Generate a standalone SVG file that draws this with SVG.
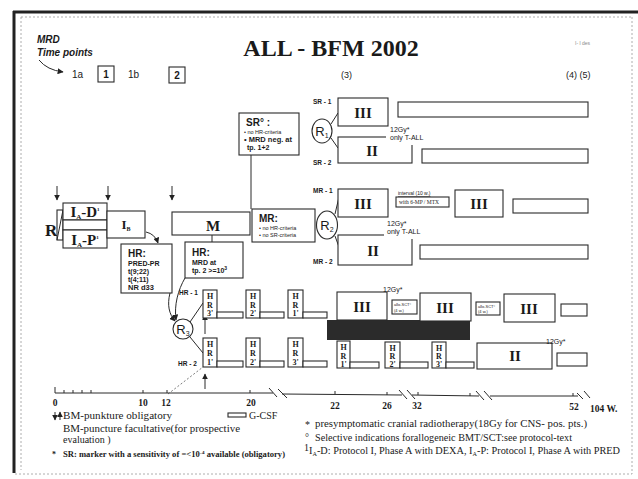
<svg xmlns="http://www.w3.org/2000/svg" width="638" height="479" viewBox="0 0 638 479">
<defs>
<marker id="ah" viewBox="0 0 10 10" refX="9" refY="5" markerWidth="6" markerHeight="6" orient="auto-start-reverse" markerUnits="userSpaceOnUse">
<path d="M0,0 L10,5 L0,10 z" fill="#222"/>
</marker>
<style>
.bx{fill:#fff;stroke:#2a2a2a;stroke-width:1.1}
.ln{fill:none;stroke:#2a2a2a;stroke-width:1}
.ss{font-family:"Liberation Sans",Arial,sans-serif;fill:#1a1a1a}
.sf{font-family:"Liberation Serif","Times New Roman",serif;fill:#1a1a1a}
.b{font-weight:bold}
.rom{font-family:"Liberation Serif","Times New Roman",serif;font-weight:bold;font-size:15px;text-anchor:middle;fill:#1a1a1a}
.hr{font-family:"Liberation Serif","Times New Roman",serif;font-weight:bold;font-size:8px;text-anchor:middle;fill:#1a1a1a}
.lab{font-family:"Liberation Sans",Arial,sans-serif;font-weight:bold;font-size:6.5px;fill:#1a1a1a}
.tiny{font-family:"Liberation Sans",Arial,sans-serif;font-size:5.5px;fill:#1a1a1a}
.gy{font-family:"Liberation Sans",Arial,sans-serif;font-size:7px;fill:#1a1a1a}
.ax{font-family:"Liberation Serif","Times New Roman",serif;font-weight:bold;font-size:9.5px;text-anchor:middle;fill:#1a1a1a}
.leg{font-family:"Liberation Serif","Times New Roman",serif;font-size:10px;fill:#1a1a1a}
.dot{fill:none;stroke:#999;stroke-width:0.8;stroke-dasharray:2,2}
</style>
</defs>
<rect width="638" height="479" fill="#fff"/>
<g id="frame">
<line x1="13" y1="12" x2="638" y2="12" stroke="#222" stroke-width="3"/>
<line x1="14" y1="11" x2="14" y2="473" stroke="#222" stroke-width="3"/>
<line x1="21" y1="17" x2="632" y2="17" class="dot"/>
<line x1="21" y1="17" x2="21" y2="470" class="dot"/>
<line x1="15" y1="474" x2="632" y2="474" class="dot"/>
<line x1="632" y1="17" x2="632" y2="474" class="dot"/>
</g>
<g id="header">
<text x="331" y="56" class="sf b" font-size="24" text-anchor="middle">ALL - BFM 2002</text>
<text x="575" y="45" class="ss" font-size="5" style="fill:#888">I- l des</text>
<text x="37" y="43" class="ss b" font-size="10" font-style="italic">MRD</text>
<text x="37" y="56" class="ss b" font-size="10" font-style="italic">Time points</text>
<path d="M39,60 Q47,70 63,72" class="ln" marker-end="url(#ah)"/>
<text x="72" y="78" class="ss" font-size="10">1a</text>
<rect x="98" y="66" width="16" height="16" class="bx"/>
<text x="106" y="78" class="ss b" font-size="10" text-anchor="middle">1</text>
<text x="128" y="78" class="ss" font-size="10">1b</text>
<rect x="169" y="67" width="16" height="16" class="bx"/>
<text x="177" y="79" class="ss b" font-size="10" text-anchor="middle">2</text>
<text x="341" y="78" class="ss" font-size="9">(3)</text>
<text x="566" y="78" class="ss" font-size="9">(4)  (5)</text>
</g>
<g id="connectors">
<line x1="57" y1="186" x2="57" y2="200" class="ln" marker-end="url(#ah)"/>
<line x1="108" y1="186" x2="108" y2="200" class="ln" marker-end="url(#ah)"/>
<line x1="172" y1="186" x2="172" y2="200" class="ln" marker-end="url(#ah)"/>
<path d="M146,232 Q155,234 158,243" class="ln" marker-end="url(#ah)"/>
<line x1="212" y1="235" x2="212" y2="242" class="ln"/>
<line x1="251" y1="155" x2="251" y2="209" class="ln"/>
<line x1="331" y1="124" x2="338" y2="113" class="ln"/>
<line x1="331" y1="138" x2="338" y2="148" class="ln"/>
<line x1="335" y1="214" x2="339" y2="197" class="ln"/>
<line x1="335" y1="236" x2="339" y2="247" class="ln"/>
<path d="M170,293 C167,305 169,314 175,321" class="ln" marker-end="url(#ah)"/>
<path d="M185,278 C178,290 174,305 176,320" class="ln" marker-end="url(#ah)"/>
<line x1="190" y1="322" x2="203" y2="303" class="ln"/>
<line x1="190" y1="337" x2="203" y2="353" class="ln"/>
<line x1="205" y1="334" x2="205" y2="315" class="ln" marker-end="url(#ah)"/>
<line x1="205" y1="389" x2="205" y2="374" class="ln" marker-end="url(#ah)"/>
<line x1="168" y1="394" x2="203" y2="367" stroke="#444" stroke-width="0.7" stroke-dasharray="2,2"/>
</g>
<g id="R">
<text x="45" y="236" class="sf b" font-size="17">R</text>
<rect x="57" y="210" width="6" height="30" class="bx"/>
<line x1="57" y1="240" x2="63" y2="210" class="ln"/>
</g>
<g id="IAD">
<rect x="63" y="203" width="44" height="17" class="bx"/>
<text x="85" y="217" class="sf b" font-size="15" text-anchor="middle">I<tspan font-size="7" dy="2">A</tspan><tspan dy="-2">-D</tspan><tspan font-size="5" dy="-6">1</tspan></text>
</g>
<rect x="63" y="220" width="44" height="10" class="bx"/>
<g id="IAP">
<rect x="63" y="230" width="44" height="18" class="bx"/>
<text x="85" y="245" class="sf b" font-size="15" text-anchor="middle">I<tspan font-size="7" dy="2">A</tspan><tspan dy="-2">-P</tspan><tspan font-size="5" dy="-6">1</tspan></text>
</g>
<g id="IB">
<rect x="107" y="211" width="38" height="27" class="bx"/>
<text x="126" y="229" class="sf b" font-size="13" text-anchor="middle">I<tspan font-size="6" dy="2">B</tspan></text>
</g>
<g id="HRbox1">
<rect x="121" y="244" width="51" height="49" class="bx"/>
<text x="128" y="257" class="ss b" font-size="10">HR:</text>
<text x="128" y="266" class="ss b" font-size="7">PRED-PR</text>
<text x="128" y="274" class="ss b" font-size="7">t(9;22)</text>
<text x="128" y="282" class="ss b" font-size="7">t(4;11)</text>
<text x="128" y="290" class="ss b" font-size="7.5">NR d33</text>
</g>
<g id="M">
<rect x="172" y="212" width="78" height="23" class="bx"/>
<text x="213" y="231" class="sf b" font-size="15" text-anchor="middle">M</text>
</g>
<g id="HRbox2">
<rect x="185" y="242" width="58" height="36" class="bx"/>
<text x="192" y="256" class="ss b" font-size="10">HR:</text>
<text x="192" y="265" class="ss b" font-size="7">MRD at</text>
<text x="192" y="273" class="ss b" font-size="7">tp. 2  &gt;=10<tspan font-size="5" dy="-3">3</tspan></text>
</g>
<g id="SRbox">
<rect x="239" y="113" width="60" height="42" class="bx"/>
<text x="246" y="126" class="ss b" font-size="10">SR°  :</text>
<text x="244" y="134" class="tiny">• no HR-criteria</text>
<text x="244" y="142" class="ss b" font-size="7.5">• MRD neg. at</text>
<text x="247" y="150" class="ss b" font-size="7">tp. 1+2</text>
</g>
<g id="MRbox">
<rect x="252" y="209" width="63" height="33" class="bx"/>
<text x="259" y="222" class="ss b" font-size="10">MR:</text>
<text x="259" y="230" class="tiny">• no HR-criteria</text>
<text x="259" y="237" class="tiny">• no SR-criteria</text>
</g>
<g id="R1">
<ellipse cx="322" cy="131" rx="10" ry="12" class="bx"/>
<text x="322" y="136" class="ss" font-size="13" text-anchor="middle">R<tspan font-size="7" dy="2">1</tspan></text>
</g>
<g id="SR1">
<text x="313" y="104" class="lab">SR - 1</text>
<rect x="338" y="98" width="50" height="28" class="bx"/>
<text x="363" y="118" class="rom">III</text>
<rect x="398" y="102" width="190" height="15" class="bx"/>
</g>
<g id="SR2">
<text x="313" y="165" class="lab">SR - 2</text>
<rect x="338" y="137" width="74" height="26" class="bx"/>
<text x="372" y="156" class="rom">II</text>
<rect x="422" y="149" width="166" height="14" class="bx"/>
</g>
<rect x="386" y="127" width="46" height="18" fill="#fff"/>
<text x="390" y="132" class="gy">12Gy*</text>
<text x="390" y="140" class="gy">only T-ALL</text>
<g id="R2">
<ellipse cx="327" cy="225" rx="10.5" ry="14" class="bx"/>
<text x="327" y="230" class="ss" font-size="13" text-anchor="middle">R<tspan font-size="7" dy="2">2</tspan></text>
</g>
<g id="MR1">
<text x="313" y="193" class="lab">MR - 1</text>
<rect x="338" y="189" width="50" height="28" class="bx"/>
<text x="363" y="209" class="rom">III</text>
<text x="398" y="195" class="ss" font-size="5" text-decoration="underline">interval (10 w.)</text>
<rect x="396" y="197" width="53" height="10" class="bx"/>
<text x="399" y="204" class="sf" font-size="5.5">with 6-MP / MTX</text>
<rect x="455" y="190" width="48" height="27" class="bx"/>
<text x="479" y="209" class="rom">III</text>
<rect x="513" y="199" width="75" height="14" class="bx"/>
</g>
<g id="MR2">
<text x="313" y="264" class="lab">MR - 2</text>
<rect x="338" y="235" width="74" height="30" class="bx"/>
<text x="373" y="256" class="rom">II</text>
<rect x="420" y="245" width="168" height="14" class="bx"/>
</g>
<rect x="384" y="218" width="48" height="21" fill="#fff"/>
<text x="387" y="226" class="gy">12Gy*</text>
<text x="387" y="234" class="gy">only T-ALL</text>
<g id="R3">
<ellipse cx="183" cy="329" rx="10" ry="10" class="bx"/>
<text x="183" y="334" class="ss" font-size="13" text-anchor="middle">R<tspan font-size="7" dy="2">3</tspan></text>
</g>
<g id="HR1">
<text x="179" y="295" class="lab">HR - 1</text>
<rect x="203" y="290" width="14" height="28" class="bx"/>
<text x="210" y="299" class="hr">H</text><text x="210" y="308" class="hr">R</text><text x="210" y="316" class="hr">3'</text>
<rect x="217" y="312" width="26" height="6" class="bx"/>
<rect x="246" y="290" width="14" height="28" class="bx"/>
<text x="253" y="299" class="hr">H</text><text x="253" y="308" class="hr">R</text><text x="253" y="316" class="hr">2'</text>
<rect x="260" y="312" width="24" height="6" class="bx"/>
<rect x="288" y="290" width="15" height="28" class="bx"/>
<text x="295.5" y="299" class="hr">H</text><text x="295.5" y="308" class="hr">R</text><text x="295.5" y="316" class="hr">1'</text>
<rect x="303" y="312" width="24" height="6" class="bx"/>
<rect x="327" y="320" width="143" height="20" fill="#2b2b2b"/>
<rect x="337" y="292" width="50" height="28" class="bx"/>
<text x="362" y="312" class="rom">III</text>
<text x="383" y="292" class="gy">12Gy*</text>
<rect x="392" y="300" width="25" height="14" class="bx"/>
<text x="394" y="306" class="ss" font-size="4">allo-SCT°</text>
<text x="394" y="312" class="ss" font-size="4">(4 w.)</text>
<rect x="420" y="293" width="51" height="28" class="bx"/>
<text x="445" y="313" class="rom">III</text>
<rect x="476" y="302" width="24" height="13" class="bx"/>
<text x="478" y="308" class="ss" font-size="4">allo-SCT°</text>
<text x="478" y="313" class="ss" font-size="4">(4 w.)</text>
<rect x="504" y="294" width="51" height="28" class="bx"/>
<text x="529" y="314" class="rom">III</text>
<rect x="561" y="304" width="26" height="12" class="bx"/>
</g>
<g id="HR2">
<text x="178" y="366" class="lab">HR - 2</text>
<rect x="203" y="338" width="14" height="29" class="bx"/>
<text x="210" y="347" class="hr">H</text><text x="210" y="356" class="hr">R</text><text x="210" y="365" class="hr">1'</text>
<rect x="217" y="361" width="26" height="6" class="bx"/>
<rect x="246" y="338" width="14" height="29" class="bx"/>
<text x="253" y="347" class="hr">H</text><text x="253" y="356" class="hr">R</text><text x="253" y="365" class="hr">2'</text>
<rect x="260" y="361" width="24" height="6" class="bx"/>
<rect x="288" y="338" width="15" height="29" class="bx"/>
<text x="295.5" y="347" class="hr">H</text><text x="295.5" y="356" class="hr">R</text><text x="295.5" y="365" class="hr">3'</text>
<rect x="303" y="361" width="24" height="6" class="bx"/>
<rect x="337" y="341" width="13" height="27" class="bx"/>
<text x="343.5" y="350" class="hr">H</text><text x="343.5" y="359" class="hr">R</text><text x="343.5" y="367" class="hr">1'</text>
<rect x="350" y="362" width="29" height="6" class="bx"/>
<rect x="385" y="342" width="15" height="26" class="bx"/>
<text x="392.5" y="351" class="hr">H</text><text x="392.5" y="359" class="hr">R</text><text x="392.5" y="367" class="hr">2'</text>
<rect x="400" y="362" width="28" height="6" class="bx"/>
<rect x="432" y="342" width="14" height="26" class="bx"/>
<text x="439" y="351" class="hr">H</text><text x="439" y="359" class="hr">R</text><text x="439" y="367" class="hr">3'</text>
<rect x="446" y="362" width="28" height="6" class="bx"/>
<rect x="477" y="343" width="75" height="26" class="bx"/>
<text x="515" y="361" class="rom">II</text>
<text x="546" y="344" class="gy">12Gy*</text>
<rect x="557" y="353" width="30" height="13" class="bx"/>
</g>
<g id="timeline">
<path d="M55,393 L273,393 M282,394 L402,395 M412,395 L479,396 M490,396 L578,396" class="ln"/>
<path d="M269,388 L277,397 M278,389 L287,398 M399,390 L407,399 M407,390 L415,399 M476,391 L484,400 M484,391 L492,400 M577,393 L583,399 M584,391 L590,398" class="ln"/>
<path d="M55,387 L55,393 M64,390 L64,393 M73,390 L73,393 M82,390 L82,393 M91,390 L91,393 M143,390 L143,393 M167,390 L167,393 M250,390 L250,393 M335,391 L335,394 M387,392 L387,395 M418,392 L418,395 M470,393 L470,396 M573,393 L573,396" class="ln"/>
<text x="55" y="406" class="ax">0</text>
<text x="143" y="406" class="ax">10</text>
<text x="166" y="406" class="ax">12</text>
<text x="251" y="406" class="ax">20</text>
<text x="335" y="409" class="ax">22</text>
<text x="387" y="409" class="ax">26</text>
<text x="417" y="409" class="ax">32</text>
<text x="574" y="410" class="ax">52</text>
<text x="590" y="412" class="sf b" font-size="9.5">104 W.</text>
</g>
<g id="legend">
<line x1="55" y1="412" x2="55" y2="420" class="ln" marker-end="url(#ah)"/>
<line x1="60" y1="420" x2="60" y2="412" class="ln" marker-end="url(#ah)"/>
<text x="63" y="419" class="leg" textLength="109" lengthAdjust="spacingAndGlyphs">BM-punkture obligatory</text>
<rect x="228" y="413" width="18" height="4" class="bx"/>
<text x="249" y="419" class="leg">G-CSF</text>
<text x="63" y="432" class="leg" textLength="177" lengthAdjust="spacingAndGlyphs">BM-puncture facultative(for prospective</text>
<text x="63" y="443" class="leg">evaluation )</text>
<text x="52" y="457" class="sf b" font-size="8">*</text>
<text x="63" y="457" class="sf b" font-size="7.5" textLength="222" lengthAdjust="spacingAndGlyphs">SR: marker with a sensitivity of =&lt;10<tspan font-size="5" dy="-3">-4</tspan><tspan dy="3"> available (obligatory)</tspan></text>
<text x="305" y="428" class="leg">*</text>
<text x="315" y="427" class="leg" textLength="272" lengthAdjust="spacingAndGlyphs">presymptomatic cranial radiotherapy(18Gy for CNS- pos. pts.)</text>
<text x="305" y="441" class="leg" font-size="8">°</text>
<text x="315" y="441" class="leg" textLength="257" lengthAdjust="spacingAndGlyphs">Selective indications forallogeneic BMT/SCT:see protocol-text</text>
<text x="304" y="451" class="leg" font-size="5.5">1</text>
<text x="309" y="454" class="leg" textLength="311" lengthAdjust="spacingAndGlyphs">I<tspan font-size="6" dy="2">A</tspan><tspan dy="-2">-D: Protocol I, Phase A with DEXA, I</tspan><tspan font-size="6" dy="2">A</tspan><tspan dy="-2">-P: Protocol I, Phase A with PRED</tspan></text>
</g>
</svg>
